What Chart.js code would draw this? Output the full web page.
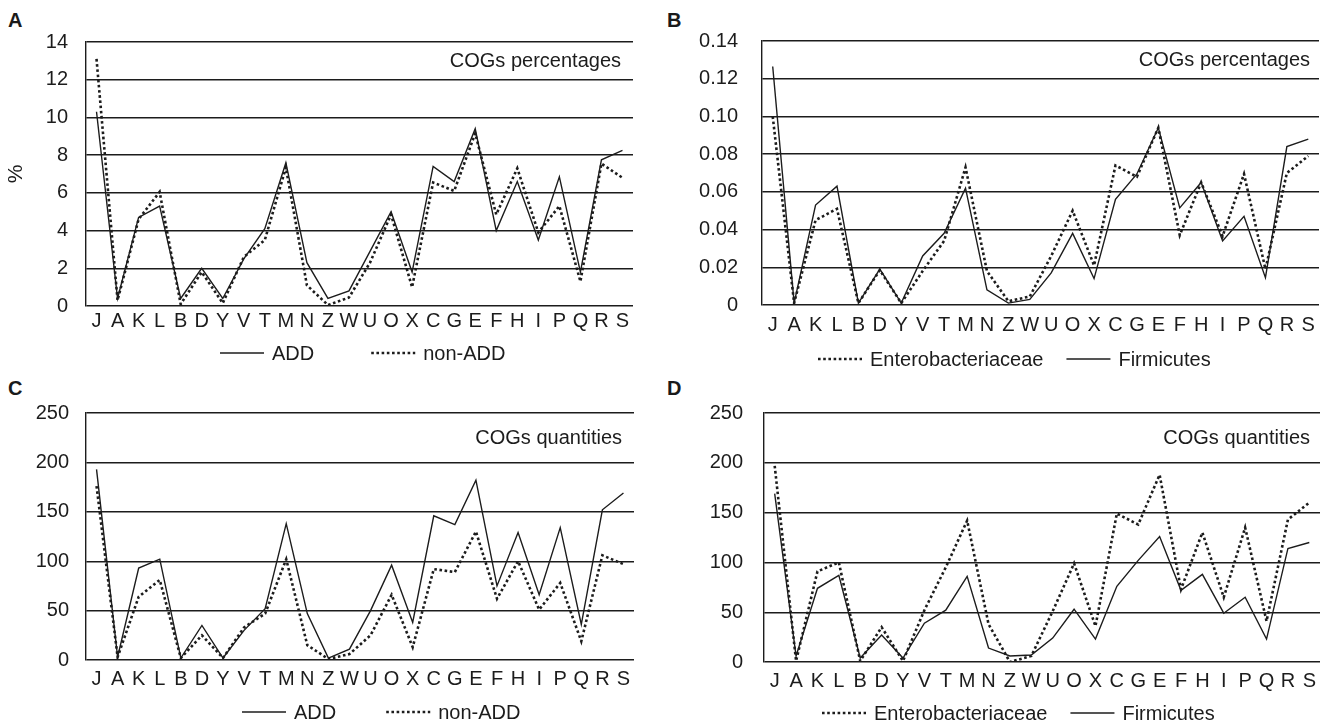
<!DOCTYPE html>
<html lang="en">
  <head>
    <meta charset="UTF-8" />
    <title>COGs</title>
    <script src="https://cdn.jsdelivr.net/npm/chart.js"></script>
    <style>
      body {
        margin: 0;
        width: 1325px;
        height: 726px;
        position: relative;
        overflow: hidden;
        background: #fff;
        font-family: "Liberation Sans", Arial, sans-serif;
      }
      .panel { position: absolute; }
      .tag { position: absolute; font-weight: bold; font-size: 20px; line-height: 20px; color: #1a1a1a; }
    </style>
  </head>
  <body>
    <div class="tag" style="left: 8px; top: 10px">A</div>
    <div class="tag" style="left: 667px; top: 10px">B</div>
    <div class="tag" style="left: 8px; top: 378px">C</div>
    <div class="tag" style="left: 667px; top: 378px">D</div>

    <div class="panel" style="left: 0; top: 0; width: 660px; height: 370px"><canvas id="chartA"></canvas></div>
    <div class="panel" style="left: 660px; top: 0; width: 665px; height: 370px"><canvas id="chartB"></canvas></div>
    <div class="panel" style="left: 0; top: 370px; width: 660px; height: 356px"><canvas id="chartC"></canvas></div>
    <div class="panel" style="left: 660px; top: 370px; width: 665px; height: 356px"><canvas id="chartD"></canvas></div>

    <script>
      const FONT = "'Liberation Sans', Arial, sans-serif";
      const INK = "#1c1c1c";

      const categories = ["J", "A", "K", "L", "B", "D", "Y", "V", "T", "M", "N", "Z", "W",
                          "U", "O", "X", "C", "G", "E", "F", "H", "I", "P", "Q", "R", "S"];

      // A: COGs percentages
      const addPct    = [10.3, 0.4, 4.7, 5.3, 0.4, 2.0, 0.4, 2.5, 4.1, 7.6, 2.3, 0.4, 0.8,
                         2.9, 5.0, 1.8, 7.4, 6.6, 9.4, 4.0, 6.6, 3.5, 6.85, 1.8, 7.75, 8.25];
      const nonAddPct = [13.1, 0.3, 4.6, 6.05, 0.1, 1.8, 0.15, 2.6, 3.5, 7.35, 1.1, 0.05, 0.45,
                         2.3, 4.85, 1.0, 6.55, 6.1, 9.15, 4.85, 7.3, 3.9, 5.3, 1.3, 7.55, 6.8];

      // B: COGs percentages (fractions)
      const enteroPct = [0.100, 0.001, 0.045, 0.051, 0.001, 0.0185, 0.001, 0.018, 0.034, 0.073, 0.018, 0.002, 0.0045,
                         0.026, 0.050, 0.021, 0.074, 0.068, 0.094, 0.037, 0.065, 0.0365, 0.0695, 0.019, 0.070, 0.079];
      const firmiPct  = [0.1265, 0.001, 0.053, 0.063, 0.001, 0.019, 0.001, 0.026, 0.038, 0.062, 0.008, 0.001, 0.003,
                         0.017, 0.038, 0.014, 0.056, 0.0695, 0.094, 0.0515, 0.065, 0.034, 0.047, 0.0145, 0.084, 0.088];

      // C: COGs quantities
      const addQty    = [193, 3, 93, 102, 2, 35, 2, 30, 52, 138, 47, 2, 11,
                         50, 96, 38, 146, 137, 182, 75, 129, 66, 134, 36, 152, 169];
      const nonAddQty = [176, 3, 64, 81, 2, 25, 2, 33, 47, 102, 15, 1, 6,
                         25, 66, 13, 92, 89, 130, 62, 100, 51, 78, 19, 106, 97];

      // D: COGs quantities
      const enteroQty = [197, 1, 91, 100, 1, 35, 1, 52, 95, 142, 38, 0, 6,
                         51, 99, 36, 149, 138, 188, 73, 130, 65, 135, 41, 143, 160];
      const firmiQty  = [169, 6, 74, 87, 4, 27, 4, 39, 52, 86, 14, 6, 7,
                         24, 53, 23, 76, 102, 126, 72, 88, 49, 65, 23, 114, 120];

      const ticksPct = [0, 2, 4, 6, 8, 10, 12, 14];
      const ticksFrac = [0, 0.02, 0.04, 0.06, 0.08, 0.1, 0.12, 0.14];
      const ticksFracLabels = ["0", "0.02", "0.04", "0.06", "0.08", "0.10", "0.12", "0.14"];
      const ticksQty = [0, 50, 100, 150, 200, 250];

      // styles for the two kinds of line
      function solid(label, data) {
        return { label: label, data: data, borderColor: INK, borderWidth: 1.4, pointRadius: 0, tension: 0, fill: false };
      }
      function dotted(label, data) {
        return { label: label, data: data, borderColor: INK, borderWidth: 2.6, borderDash: [2.6, 2.6],
                 borderCapStyle: "butt", pointRadius: 0, tension: 0, fill: false };
      }

      // legend drawn as line samples + text below the x labels
      const lineLegend = {
        id: "lineLegend",
        afterDraw(chart, args, o) {
          const ctx = chart.ctx;
          let x = o.x;
          ctx.save();
          ctx.font = "20px " + FONT;
          ctx.fillStyle = INK;
          ctx.strokeStyle = INK;
          ctx.textBaseline = "middle";
          o.order.forEach(function (i) {
            const ds = chart.data.datasets[i];
            ctx.beginPath();
            ctx.lineWidth = ds.borderWidth;
            ctx.setLineDash(ds.borderDash || []);
            ctx.moveTo(x, o.y);
            ctx.lineTo(x + 44, o.y);
            ctx.stroke();
            ctx.setLineDash([]);
            x += 44 + 8;
            ctx.fillText(ds.label, x, o.y + 1);
            x += ctx.measureText(ds.label).width + o.gap;
          });
          ctx.restore();
        },
      };

      // "COGs ..." note in the first band of the plot
      const cornerNote = {
        id: "cornerNote",
        afterDraw(chart, args, o) {
          const ctx = chart.ctx;
          const y = chart.scales.y;
          const t = y.ticks;
          const top = y.getPixelForValue(t[t.length - 1].value);
          const next = y.getPixelForValue(t[t.length - 2].value);
          ctx.save();
          ctx.font = "20px " + FONT;
          ctx.fillStyle = INK;
          ctx.textAlign = "right";
          ctx.textBaseline = "middle";
          ctx.fillText(o.text, chart.chartArea.right - o.right, (top + next) / 2 + 1);
          ctx.restore();
        },
      };

      function makeChart(id, cfg) {
        return new Chart(document.getElementById(id), {
          type: "line",
          data: { labels: categories, datasets: cfg.datasets },
          options: {
            responsive: true,
            maintainAspectRatio: false,
            animation: false,
            layout: { padding: cfg.padding },
            scales: {
              x: {
                offset: true,
                grid: { display: false, drawTicks: false },
                border: { display: false },
                ticks: {
                  color: INK,
                  font: { family: FONT, size: 20 },
                  padding: cfg.xPad,
                  maxRotation: 0,
                  autoSkip: false,
                },
              },
              y: {
                min: cfg.ticks[0],
                max: cfg.ticks[cfg.ticks.length - 1],
                afterBuildTicks: function (axis) {
                  axis.ticks = cfg.ticks.map(function (v) { return { value: v }; });
                },
                afterFit: function (axis) {
                  axis.width = cfg.yWidth;
                },
                grid: { color: INK, lineWidth: 1.4, drawTicks: false },
                border: { display: true, color: INK, width: 1.4 },
                ticks: {
                  color: INK,
                  font: { family: FONT, size: 20 },
                  padding: cfg.yPad,
                  callback: cfg.tickLabel,
                },
                title: cfg.yTitle
                  ? { display: true, text: cfg.yTitle, color: INK, font: { family: FONT, size: 21 }, padding: { top: 4, bottom: 0 } }
                  : { display: false },
              },
            },
            plugins: {
              legend: { display: false },
              tooltip: { enabled: false },
              lineLegend: cfg.legend,
              cornerNote: cfg.note,
            },
          },
          plugins: [lineLegend, cornerNote],
        });
      }

      makeChart("chartA", {
        datasets: [solid("ADD", addPct), dotted("non-ADD", nonAddPct)],
        ticks: ticksPct,
        tickLabel: function (v, i) { return String(ticksPct[i]); },
        yTitle: "%",
        yWidth: 86,
        yPad: 18,
        xPad: 3,
        padding: { left: 0, top: 42, right: 27, bottom: 34 },
        legend: { x: 220, y: 353, gap: 57, order: [0, 1] },
        note: { text: "COGs percentages", right: 12 },
      });

      makeChart("chartB", {
        datasets: [dotted("Enterobacteriaceae", enteroPct), solid("Firmicutes", firmiPct)],
        ticks: ticksFrac,
        tickLabel: function (v, i) { return ticksFracLabels[i]; },
        yWidth: 102,
        yPad: 24,
        xPad: 8,
        padding: { left: 0, top: 41, right: 6, bottom: 25 },
        legend: { x: 158, y: 359, gap: 23, order: [0, 1] },
        note: { text: "COGs percentages", right: 9 },
      });

      makeChart("chartC", {
        datasets: [solid("ADD", addQty), dotted("non-ADD", nonAddQty)],
        ticks: ticksQty,
        tickLabel: function (v, i) { return String(ticksQty[i]); },
        yWidth: 86,
        yPad: 17,
        xPad: 7,
        padding: { left: 0, top: 43, right: 26, bottom: 28 },
        legend: { x: 242, y: 342, gap: 50, order: [0, 1] },
        note: { text: "COGs quantities", right: 12 },
      });

      makeChart("chartD", {
        datasets: [dotted("Enterobacteriaceae", enteroQty), solid("Firmicutes", firmiQty)],
        ticks: ticksQty,
        tickLabel: function (v, i) { return String(ticksQty[i]); },
        yWidth: 104,
        yPad: 21,
        xPad: 7,
        padding: { left: 0, top: 43, right: 5, bottom: 26 },
        legend: { x: 162, y: 343, gap: 23, order: [0, 1] },
        note: { text: "COGs quantities", right: 10 },
      });
    </script>
  </body>
</html>
